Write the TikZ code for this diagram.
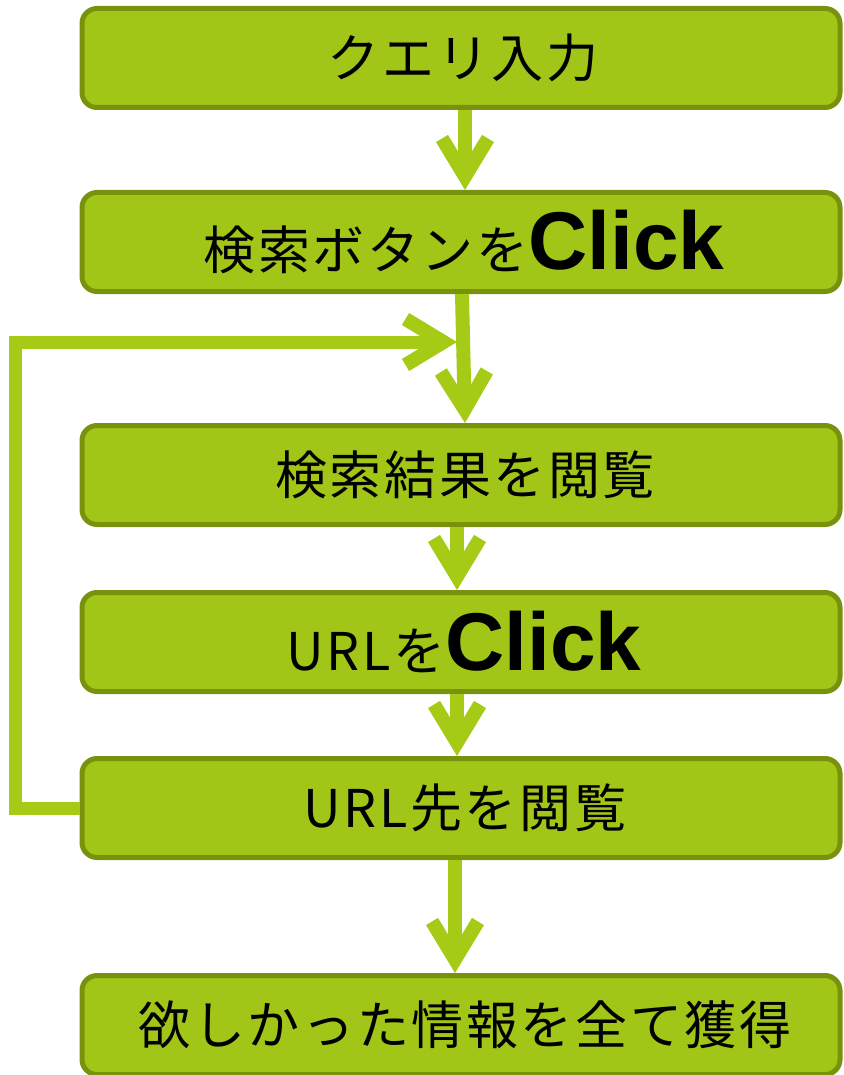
\documentclass[tikz,border=0pt]{standalone}
\usepackage{fontspec}
\setmainfont{Noto Sans CJK JP}
\newfontfamily\clickfont{Liberation Sans}
\usetikzlibrary{arrows.meta}

\definecolor{boxfill}{HTML}{A2C617}
\definecolor{boxedge}{HTML}{78920E}
\definecolor{flowline}{HTML}{A6CB16}

\newcommand{\clk}{{\clickfont\bfseries\fontsize{82}{90}\selectfont Click}}

\tikzset{
  stepbox/.style={draw=boxedge,fill=boxfill,line width=5pt,rounded corners=15pt,
    minimum width=758pt,minimum height=99pt,inner sep=0pt,
    font=\fontsize{52}{60}\selectfont\addfontfeature{LetterSpace=5}},
  flow/.style={flowline,line width=14pt,line join=miter,
    -{Straight Barb[length=38pt,width=46pt,line width=14pt]}}
}

\begin{document}
\begin{tikzpicture}[x=1pt,y=-1pt]
      \useasboundingbox (0,0) rectangle (843,1075);

      % steps
      \node[stepbox] (query)  at (461,58)   {\hspace{4pt}クエリ入力};
      \node[stepbox] (search) at (461,242)  {\hspace{6pt}検索ボタンを\clk};
      \node[stepbox] (result) at (461,475)  {\hspace{8pt}検索結果を閲覧};
      \node[stepbox] (url)    at (461,642)  {\hspace{6pt}URLを\clk};
      \node[stepbox] (page)   at (461,808)  {\hspace{8pt}URL先を閲覧};
      \node[stepbox] (goal)   at (461,1025) {\hspace{8pt}欲しかった情報を全て獲得};

      % flow
      \draw[flow] ([xshift=4pt]query.south) -- ([xshift=4pt]search.north);
      \draw[flow] ([xshift=1pt]search.south) -- ([xshift=4pt]result.north);
      \draw[flow] ([xshift=-4pt]result.south) -- ([xshift=-4pt]url.north);
      \draw[flow] ([xshift=-4pt]url.south) -- ([xshift=-4pt]page.north);
      \draw[flow] ([xshift=-6pt]page.south) -- ([xshift=-6pt]goal.north);

      % back to the results
      \coordinate (back) at (457,342);
      \draw[flow,line width=13pt] (page.west) -- (15,808) -- (15,342) -- (back);

\end{tikzpicture}
\end{document}
